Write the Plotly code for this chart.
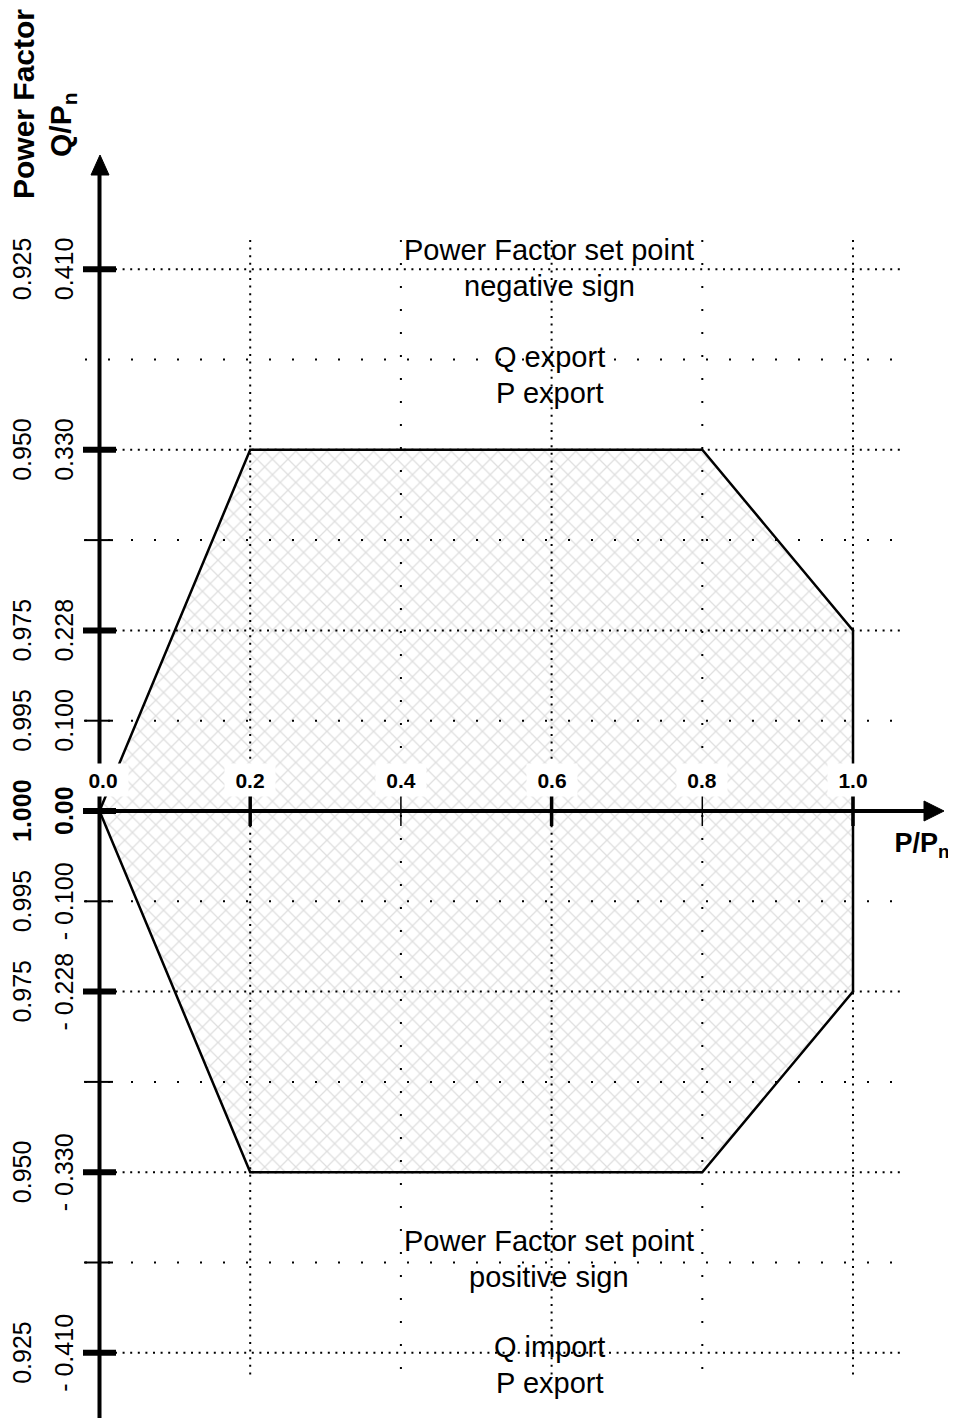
import plotly.graph_objects as go

# ---------------- data ----------------
# y axis: evenly spaced slots, labelled with Q/Pn and power factor
slot_pos   = [6, 5, 4, 3, 2, 1, 0, -1, -2, -3, -4, -5, -6]
q_values   = [0.410, None, 0.330, None, 0.228, 0.100, 0.0, -0.100, -0.228, None, -0.330, None, -0.410]
q_labels   = ["0.410", "", "0.330", "", "0.228", "0.100", "0.00", "- 0.100", "- 0.228", "", "- 0.330", "", "- 0.410"]
pf_labels  = ["0.925", "", "0.950", "", "0.975", "0.995", "1.000", "0.995", "0.975", "", "0.950", "", "0.925"]
major_slot = [6, 4, 2, 0, -2, -4, -6]
tick_slot  = [6, 4, 3, 2, 1, 0, -1, -2, -3, -4, -5, -6]

# x axis
p_ticks   = [0.0, 0.2, 0.4, 0.6, 0.8, 1.0]
p_labels  = ["0.0", "0.2", "0.4", "0.6", "0.8", "1.0"]
p_major   = [0.2, 0.6, 1.0]

# capability polygon (P/Pn, Q/Pn)
poly_p = [0.0, 0.2, 0.8, 1.0, 1.0, 0.8, 0.2, 0.0]
poly_q = [0.0, 0.330, 0.330, 0.228, -0.228, -0.330, -0.330, 0.0]

# region texts
region_lines = ["Power Factor set point", "negative sign", "Q export", "P export",
                "Power Factor set point", "positive sign", "Q import", "P export"]

# ---------------- layout helpers ----------------
W, H = 956, 1418
PAGE_OFF = 8                # default body margin of the html page
X0PX, XSC = 99.5, 753.5     # pixel of P=0, pixels per unit
Y0PX, YSC = 811.0, 90.3     # pixel of slot 0, pixels per slot

def px2x(px):
    return (px - X0PX) / XSC

def py2y(py):
    return (Y0PX - py) / YSC

q_to_slot = {q: s for q, s in zip(q_values, slot_pos) if q is not None}
poly_slot = [q_to_slot[q] for q in poly_q]

FONT = "Arial, Liberation Sans, sans-serif"

fig = go.Figure()
fig.add_trace(go.Scatter(
    x=poly_p, y=poly_slot, mode="lines", fill="toself",
    fillcolor="white",
    fillpattern=dict(shape="x", size=11, solidity=0.22, fgcolor="#bfbfbf", bgcolor="white"),
    line=dict(color="black", width=2.5), hoverinfo="skip", showlegend=False))

shapes = []
DENSE = "2px,5.6px"
SPARSE = "2px,21px"
# vertical grid
for p in p_ticks[1:]:
    dash = DENSE if p in p_major else SPARSE
    shapes.append(dict(type="line", x0=p, x1=p, y0=py2y(240), y1=py2y(1380),
                       line=dict(color="black", width=2, dash=dash), layer="above"))
# horizontal grid
for s in slot_pos:
    if s == 0:
        continue
    if s in major_slot:
        shapes.append(dict(type="line", x0=px2x(115), x1=px2x(902), y0=s, y1=s,
                           line=dict(color="black", width=2, dash=DENSE), layer="above"))
    else:
        shapes.append(dict(type="line", x0=px2x(85), x1=px2x(895), y0=s, y1=s,
                           line=dict(color="black", width=2, dash=SPARSE), layer="above"))
# axes
shapes.append(dict(type="line", x0=0, x1=0, y0=py2y(1425), y1=py2y(172),
                   line=dict(color="black", width=4), layer="above"))
shapes.append(dict(type="line", x0=0, x1=px2x(926), y0=0, y1=0,
                   line=dict(color="black", width=4), layer="above"))
# arrow heads
ya = f"M {px2x(100)},{py2y(155)} L {px2x(91)},{py2y(175)} L {px2x(109)},{py2y(175)} Z"
xa = f"M {px2x(944)},{py2y(811)} L {px2x(924)},{py2y(801)} L {px2x(924)},{py2y(821)} Z"
for path in (ya, xa):
    shapes.append(dict(type="path", path=path, fillcolor="black",
                       line=dict(color="black", width=1), layer="above"))
# y ticks
for s in tick_slot:
    if s in major_slot:
        shapes.append(dict(type="line", x0=px2x(83), x1=px2x(116), y0=s, y1=s,
                           line=dict(color="black", width=6), layer="above"))
    else:
        shapes.append(dict(type="line", x0=px2x(84), x1=px2x(113), y0=s, y1=s,
                           line=dict(color="black", width=2), layer="above"))
# x ticks
for p in p_ticks[1:]:
    w = 3.5 if p in p_major else 1.5
    shapes.append(dict(type="line", x0=p, x1=p, y0=py2y(795), y1=py2y(826),
                       line=dict(color="black", width=w), layer="above"))

ann = []
# y tick labels
for s, ql, pl in zip(slot_pos, q_labels, pf_labels):
    bold = (s == 0)
    if ql:
        t = f"<b>{ql}</b>" if bold else ql
        ann.append(dict(x=px2x(64), y=s, text=t, textangle=-90, showarrow=False,
                        font=dict(family=FONT, size=25, color="black")))
    if pl:
        t = f"<b>{pl}</b>" if bold else pl
        ann.append(dict(x=px2x(22), y=s, text=t, textangle=-90, showarrow=False,
                        font=dict(family=FONT, size=25, color="black")))
# x tick labels
for p, lab in zip(p_ticks, p_labels):
    ann.append(dict(x=p + (px2x(103) - px2x(100) if p == 0 else 0), y=py2y(780),
                    text=f"<b>{lab}</b>", showarrow=False, bgcolor="white",
                    width=48, height=30,
                    font=dict(family=FONT, size=21, color="black")))
# axis titles
ann.append(dict(x=px2x(23), y=py2y(104), text="<b>Power Factor</b>", textangle=-90,
                showarrow=False, font=dict(family=FONT, size=30, color="black")))
ann.append(dict(x=px2x(62), y=py2y(125), text="<b>Q/P<sub>n</sub></b>", textangle=-90,
                showarrow=False, font=dict(family=FONT, size=30, color="black")))
ann.append(dict(x=px2x(922), xanchor="center", y=py2y(845), width=64, height=40,
                text="<b>P/P<sub>n</sub></b>",
                showarrow=False, font=dict(family=FONT, size=27, color="black")))
# region texts, one line each
line_py = [250, 286, 357, 393, 1241, 1277, 1347, 1383]
for pyc, txt in zip(line_py, region_lines):
    ann.append(dict(x=px2x(549), y=py2y(pyc), text=txt, showarrow=False,
                    font=dict(family=FONT, size=29, color="black")))

fig.update_layout(
    width=W - PAGE_OFF, height=H - PAGE_OFF, margin=dict(l=0, r=0, t=0, b=0),
    paper_bgcolor="white", plot_bgcolor="white",
    xaxis=dict(range=[px2x(PAGE_OFF), px2x(W)], visible=False, fixedrange=True),
    yaxis=dict(range=[py2y(H), py2y(PAGE_OFF)], visible=False, fixedrange=True),
    shapes=shapes, annotations=ann, showlegend=False)

fig.write_html("out.html")
